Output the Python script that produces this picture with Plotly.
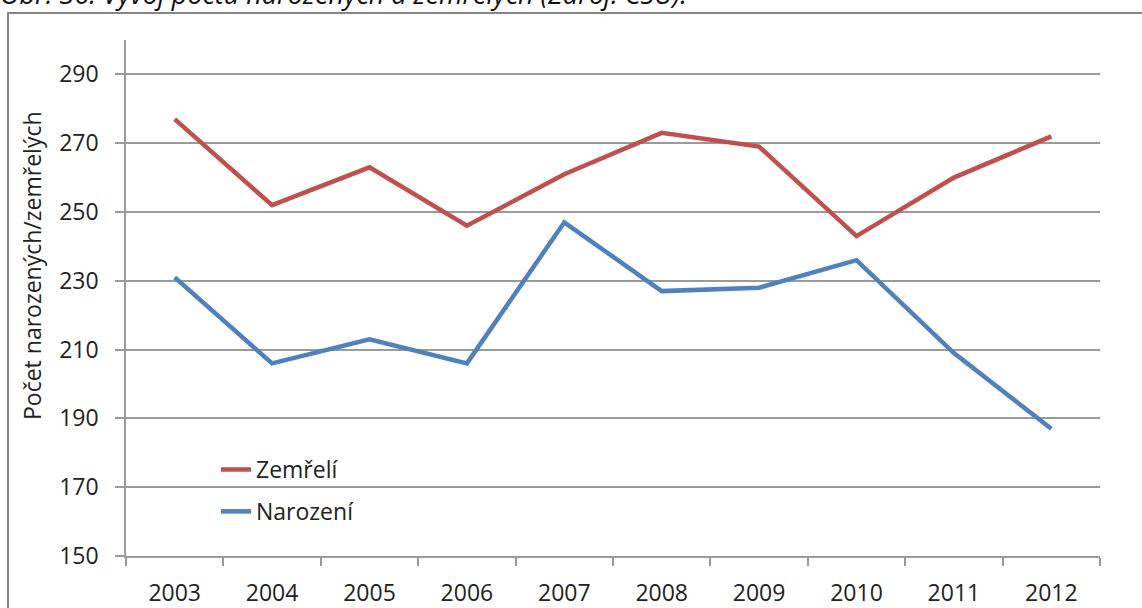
import plotly.graph_objects as go

years = ["2003", "2004", "2005", "2006", "2007", "2008", "2009", "2010", "2011", "2012"]
zemreli = [277, 252, 263, 246, 261, 273, 269, 243, 260, 272]
narozeni = [231, 206, 213, 206, 247, 227, 228, 236, 209, 187]
y_ticks = [150, 170, 190, 210, 230, 250, 270, 290]

W, H = 1142, 608
L, R, T, B = 126, 42, 40, 52
pw, ph = W - L - R, H - T - B

def px(x):
    return (x - L) / pw

def py(y):
    return (H - B - y) / ph

FONT = "Open Sans"
GRID = "#9a9a9a"
FS = 23

fig = go.Figure()
fig.add_trace(go.Scatter(x=years, y=zemreli, mode="lines", name="Zemřelí",
                         line=dict(color="#C0504D", width=4.5), legendgroup="z"))
fig.add_trace(go.Scatter(x=years, y=narozeni, mode="lines", name="Narození",
                         line=dict(color="#4F81BD", width=4.5), legendgroup="n"))

fig.update_layout(
    width=W, height=H,
    margin=dict(l=L, r=R, t=T, b=B, autoexpand=False),
    paper_bgcolor="white", plot_bgcolor="white",
    font=dict(family=FONT, size=FS, color="#222222"),
    showlegend=True,
    legend=dict(x=px(216), y=py(448), xanchor="left", yanchor="top",
                bgcolor="rgba(0,0,0,0)", font=dict(size=FS, family=FONT),
                tracegroupgap=9, traceorder="grouped"),
    xaxis=dict(type="category", range=[-0.5, 9.5], showgrid=False,
               showline=True, linecolor=GRID, linewidth=1.5,
               ticks="outside", ticklen=8, tickcolor=GRID, tickwidth=1.5,
               tickson="boundaries", ticklabelstandoff=16, automargin=False,
               tickfont=dict(size=FS, family=FONT)),
    yaxis=dict(range=[150, 300], tickvals=y_ticks, showgrid=True,
               gridcolor=GRID, gridwidth=1.5, zeroline=False,
               showline=True, linecolor=GRID, linewidth=1.5,
               ticks="outside", ticklen=9, tickcolor=GRID, tickwidth=1.5,
               ticklabelstandoff=12, automargin=False,
               tickfont=dict(size=FS, family=FONT)),
)

fig.add_annotation(text="Počet narozených/zemřelých", textangle=-90,
                   xref="paper", yref="paper", x=px(32), y=py(266),
                   xanchor="center", yanchor="middle",
                   showarrow=False, font=dict(size=FS, family=FONT, color="#222222"))

fig.add_annotation(text="<i>Obr. 36: Vývoj počtu narozených a zemřelých (Zdroj: ČSÚ).</i>",
                   xref="paper", yref="paper", x=px(-2), y=py(14),
                   xanchor="left", yanchor="bottom", showarrow=False,
                   font=dict(size=27, family=FONT, color="#111111"))

fig.add_shape(type="rect", xref="paper", yref="paper",
              x0=px(8), x1=px(1200), y0=py(700), y1=py(13),
              line=dict(color="#868686", width=2), fillcolor="rgba(0,0,0,0)", layer="below")

fig.write_html("out.html", config={"displayModeBar": False},
               post_script="document.body.style.margin='0';")
